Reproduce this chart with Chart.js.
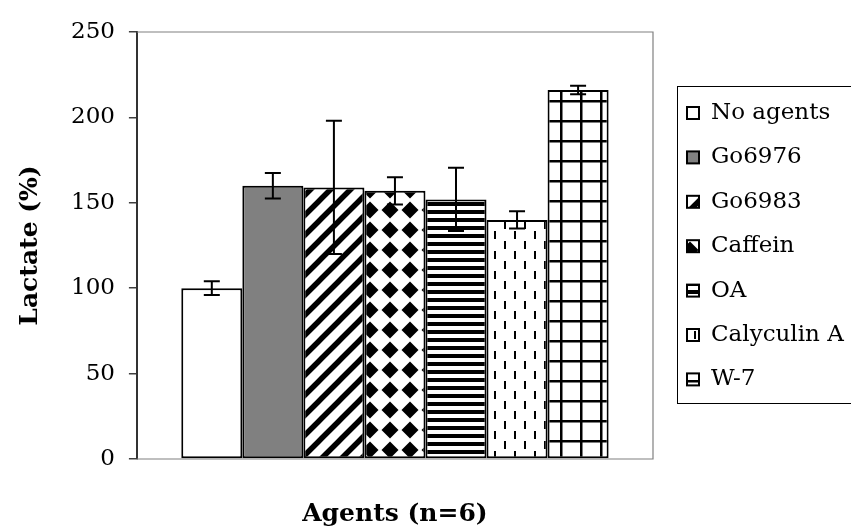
<!DOCTYPE html>
<html>
<head>
<meta charset="utf-8">
<title>Lactate</title>
<script src="https://cdn.jsdelivr.net/npm/chart.js@4/dist/chart.umd.min.js"></script>
<style>
  html, body { margin: 0; padding: 0; background: #fff; }
  #wrap { width: 851px; height: 532px; position: relative; }
</style>
</head>
<body>
<div id="wrap"><canvas id="grafico"></canvas></div>
<script>
// Datos
const categorias = ['No agents', 'Go6976', 'Go6983', 'Caffein', 'OA', 'Calyculin A', 'W-7'];
const lactato = [100, 160, 159, 157, 152, 140, 216];
const errores = [4, 7.5, 39, 8, 18.5, 5, 2.5];
const ejeY = { min: 0, max: 250, paso: 50 };

const FUENTE = 'DejaVu Serif';

// Tramas de relleno
function crearTrama(tipo) {
    const c = document.createElement('canvas');
    const s = tipo === 'rayas' ? 8 : 20;
    c.width = s; c.height = s;
    const g = c.getContext('2d');
    g.fillStyle = '#fff';
    g.fillRect(0, 0, s, s);
    g.strokeStyle = '#000';
    g.fillStyle = '#000';
    if (tipo === 'diagonal') {
        g.lineWidth = 5.5;
        g.beginPath();
        g.moveTo(-2, s + 2); g.lineTo(s + 2, -2);
        g.moveTo(-4, 4); g.lineTo(4, -4);
        g.moveTo(s - 4, s + 4); g.lineTo(s + 4, s - 4);
        g.stroke();
    } else if (tipo === 'diamantes') {
        g.beginPath();
        g.moveTo(10, 1.5); g.lineTo(18.5, 10); g.lineTo(10, 18.5); g.lineTo(1.5, 10);
        g.closePath();
        g.fill();
    } else if (tipo === 'rayas') {
        g.fillRect(0, 2, s, 4);
    } else if (tipo === 'guiones') {
        g.fillRect(4, 1, 2, 8);
        g.fillRect(14, 11, 2, 8);
    } else if (tipo === 'cuadricula') {
        g.fillRect(0, 0, s, 2.5);
        g.fillRect(0, 0, 2.5, s);
    }
    return g.createPattern(c, 'repeat');
}

const rellenos = [
    '#ffffff',
    '#808080',
    crearTrama('diagonal'),
    crearTrama('diamantes'),
    crearTrama('rayas'),
    crearTrama('guiones'),
    crearTrama('cuadricula')
];

// Marco del area de trazado
const marco = {
    id: 'marco',
    beforeDatasetsDraw(chart) {
        const { ctx, chartArea: a } = chart;
        ctx.save();
        ctx.strokeStyle = '#808080';
        ctx.lineWidth = 1.2;
        ctx.beginPath();
        ctx.moveTo(a.left, a.top); ctx.lineTo(a.right, a.top);
        ctx.lineTo(a.right, a.bottom); ctx.lineTo(a.left, a.bottom);
        ctx.stroke();
        ctx.restore();
    }
};

// Barras de error
const barrasError = {
    id: 'barrasError',
    afterDatasetsDraw(chart) {
        const { ctx } = chart;
        const y = chart.scales.y;
        ctx.save();
        ctx.strokeStyle = '#000';
        ctx.lineWidth = 2;
        chart.data.datasets.forEach((ds, i) => {
            const barra = chart.getDatasetMeta(i).data[0];
            const v = ds.data[0];
            const e = errores[i];
            const x = barra.x;
            const arriba = y.getPixelForValue(v + e);
            const abajo = y.getPixelForValue(v - e);
            ctx.beginPath();
            ctx.moveTo(x, arriba); ctx.lineTo(x, abajo);
            ctx.moveTo(x - 8, arriba); ctx.lineTo(x + 8, arriba);
            ctx.moveTo(x - 8, abajo); ctx.lineTo(x + 8, abajo);
            ctx.stroke();
        });
        ctx.restore();
    }
};

// Leyenda con recuadro
const leyenda = {
    id: 'leyenda',
    afterDraw(chart) {
        const { ctx, chartArea: a } = chart;
        const izq = a.right + 24;
        const sup = a.top + 54;
        const alto = 317;
        ctx.save();
        ctx.strokeStyle = '#000';
        ctx.lineWidth = 1;
        ctx.strokeRect(izq + 0.5, sup + 0.5, 400, alto);
        ctx.font = '23px "' + FUENTE + '"';
        ctx.textBaseline = 'middle';
        ctx.fillStyle = '#000';
        chart.data.datasets.forEach((ds, i) => {
            const cy = sup + 27 + i * 44.4;
            ctx.fillStyle = ds.backgroundColor;
            ctx.fillRect(izq + 10, cy - 6, 12, 12);
            ctx.lineWidth = 2;
            ctx.strokeStyle = '#000';
            ctx.strokeRect(izq + 10, cy - 6, 12, 12);
            ctx.fillStyle = '#000';
            ctx.fillText(ds.label, izq + 34, cy);
        });
        ctx.restore();
    }
};

let grafico;

function inicializarGrafico() {
    const ctx = document.getElementById('grafico');
    grafico = new Chart(ctx, {
        type: 'bar',
        data: {
            labels: [''],
            datasets: categorias.map((nombre, i) => ({
                label: nombre,
                data: [lactato[i]],
                backgroundColor: rellenos[i],
                borderColor: '#000',
                borderWidth: 2,
                borderSkipped: false,
                categoryPercentage: 0.828,
                barPercentage: 1.0
            }))
        },
        options: {
            responsive: true,
            maintainAspectRatio: false,
            animation: false,
            layout: { padding: { left: 11, right: 198, top: 32, bottom: 3 } },
            plugins: {
                legend: { display: false },
                tooltip: { enabled: false }
            },
            scales: {
                x: {
                    grid: { display: false },
                    border: { display: false },
                    ticks: { display: false },
                    title: {
                        display: true,
                        text: 'Agents (n=6)',
                        color: '#000',
                        font: { family: FUENTE, size: 25, weight: 'bold' },
                        padding: { top: 32, bottom: 0 }
                    }
                },
                y: {
                    min: ejeY.min,
                    max: ejeY.max,
                    ticks: {
                        stepSize: ejeY.paso,
                        color: '#000',
                        padding: 14,
                        font: { family: FUENTE, size: 23 }
                    },
                    grid: {
                        drawOnChartArea: false,
                        tickLength: 8,
                        color: '#404040',
                        lineWidth: 1.5
                    },
                    border: { display: true, color: '#333', width: 2 },
                    title: {
                        display: true,
                        text: 'Lactate (%)',
                        color: '#000',
                        font: { family: FUENTE, size: 25, weight: 'bold' },
                        padding: { top: 4, bottom: 12 }
                    }
                }
            }
        },
        plugins: [marco, barrasError, leyenda]
    });
}

document.addEventListener('DOMContentLoaded', inicializarGrafico);
</script>
</body>
</html>
